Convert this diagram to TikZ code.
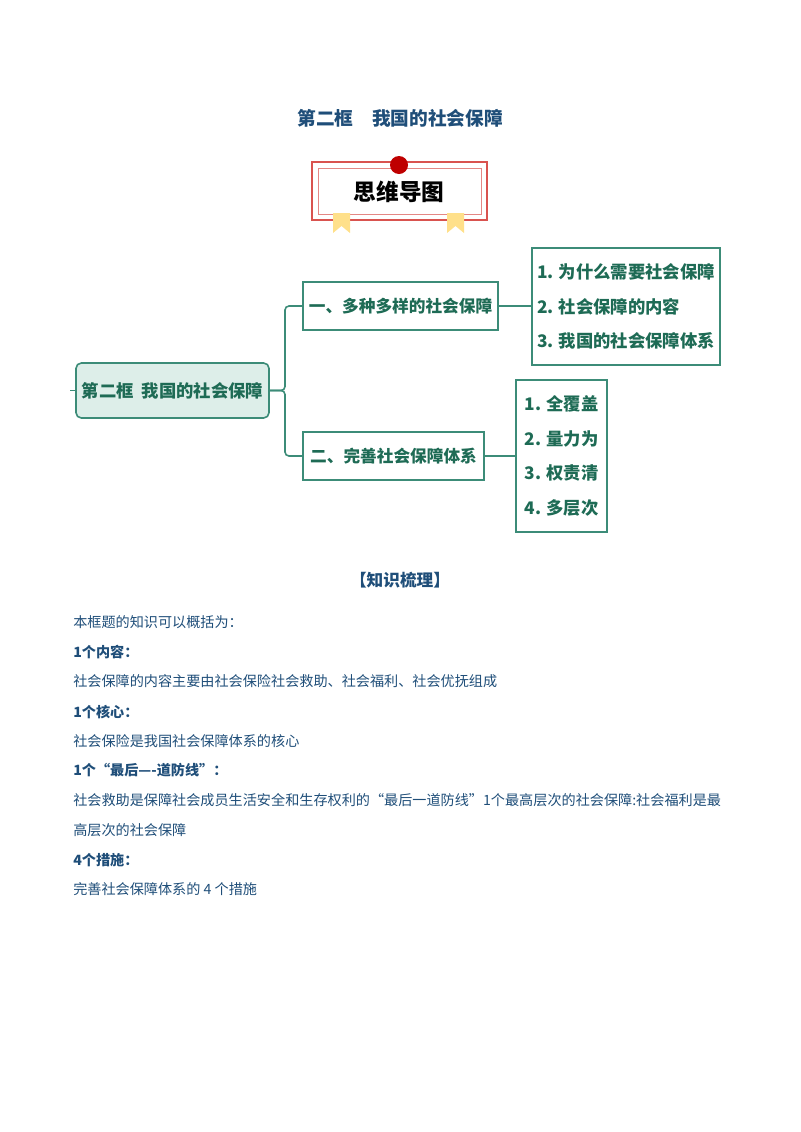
\documentclass[tikz,border=0pt]{standalone}
\usepackage{fontspec}
\setmainfont{Noto Sans CJK SC}
\definecolor{navy}{HTML}{1F4E79}
\definecolor{teal}{HTML}{3C8C78}
\definecolor{gtxt}{HTML}{1E6B55}
\definecolor{lfill}{HTML}{DDEEE9}
\definecolor{bred}{HTML}{D9534F}
\definecolor{ribbon}{HTML}{FFE08A}
\begin{document}
\begin{tikzpicture}[x=0.75pt,y=-0.75pt,
  mbox/.style={draw=teal,line width=1.2pt,inner sep=0pt,text=gtxt},
  conn/.style={draw=teal,line width=1.2pt,rounded corners=3pt},
  body/.style={anchor=west,font=\fontsize{10.6}{12}\selectfont,text=navy,inner sep=0pt},
  bhead/.style={anchor=west,font=\fontsize{10.6}{12}\selectfont\bfseries,text=navy,inner sep=0pt}]
\useasboundingbox (0,0) rectangle (800,1132);
\node[font=\fontsize{14}{16}\selectfont\bfseries,text=navy] (title) at (400,118) {第二框\quad 我国的社会保障};
% badge
\draw[bred,line width=1pt] (312,162) rectangle (487,220);
\draw[bred!70,line width=0.6pt] (318,168) rectangle (481,214);
\fill[ribbon] (333,213) -- (350,213) -- (350,233) -- (341.5,226) -- (333,233) -- cycle;
\fill[ribbon] (447,213) -- (464,213) -- (464,233) -- (455.5,226) -- (447,233) -- cycle;
\fill[red!75!black] (399,165) circle (9);
\node[font=\fontsize{17}{19}\selectfont\bfseries] (badge) at (399,192) {思维导图};
% mind map
\node[mbox,fill=lfill,rounded corners=4pt,minimum width=193*0.75pt,minimum height=55*0.75pt,font=\fontsize{13}{15}\selectfont\bfseries] (c) at (172.5,390.5) {第二框\ \ 我国的社会保障};
\node[mbox,minimum width=195*0.75pt,minimum height=48*0.75pt,font=\fontsize{12.5}{15}\selectfont\bfseries] (b1) at (400.5,306) {一、多种多样的社会保障};
\node[mbox,minimum width=181*0.75pt,minimum height=48*0.75pt,font=\fontsize{12.5}{15}\selectfont\bfseries] (b2) at (393.5,456) {二、完善社会保障体系};
\node[mbox,minimum width=188*0.75pt,minimum height=117*0.75pt,align=left,font=\fontsize{13}{26}\selectfont\bfseries] (l1) at (626,306.5) {1. 为什么需要社会保障\\2. 社会保障的内容\\3. 我国的社会保障体系};
\node[mbox,minimum width=91*0.75pt,minimum height=152*0.75pt,align=left,font=\fontsize{13}{26}\selectfont\bfseries] (l2) at (561.5,456) {1. 全覆盖\\2. 量力为\\3. 权责清\\4. 多层次};
\coordinate (stub) at (70,390.5);
\draw[conn] (stub) -- (c.west);
\draw[conn] (c.east) -- (285,390.5) |- (b1.west);
\draw[conn] (c.east) -- (285,390.5) |- (b2.west);
\draw[conn] (b1.east) -- (l1.west |- b1.east);
\draw[conn] (b2.east) -- (l2.west |- b2.east);
% text
\node[font=\fontsize{12.5}{14}\selectfont\bfseries,text=navy] (h) at (400,580) {【知识梳理】};
\node[body] (t1) at (73,622) {本框题的知识可以概括为：};
\node[bhead] (t2) at (73,652) {1个内容：};
\node[body] (t3) at (73,681) {社会保障的内容主要由社会保险社会救助、社会福利、社会优抚组成};
\node[bhead] (t4) at (73,712) {1个核心：};
\node[body] (t5) at (73,741) {社会保险是我国社会保障体系的核心};
\node[bhead] (t6) at (73,770) {1个“最后—-道防线”：};
\node[body] (t7) at (73,800) {社会救助是保障社会成员生活安全和生存权利的“最后一道防线”1个最高层次的社会保障:社会福利是最};
\node[body] (t8) at (73,830) {高层次的社会保障};
\node[bhead] (t9) at (73,860) {4个措施：};
\node[body] (t10) at (73,889) {完善社会保障体系的 4 个措施};
\end{tikzpicture}
\end{document}
